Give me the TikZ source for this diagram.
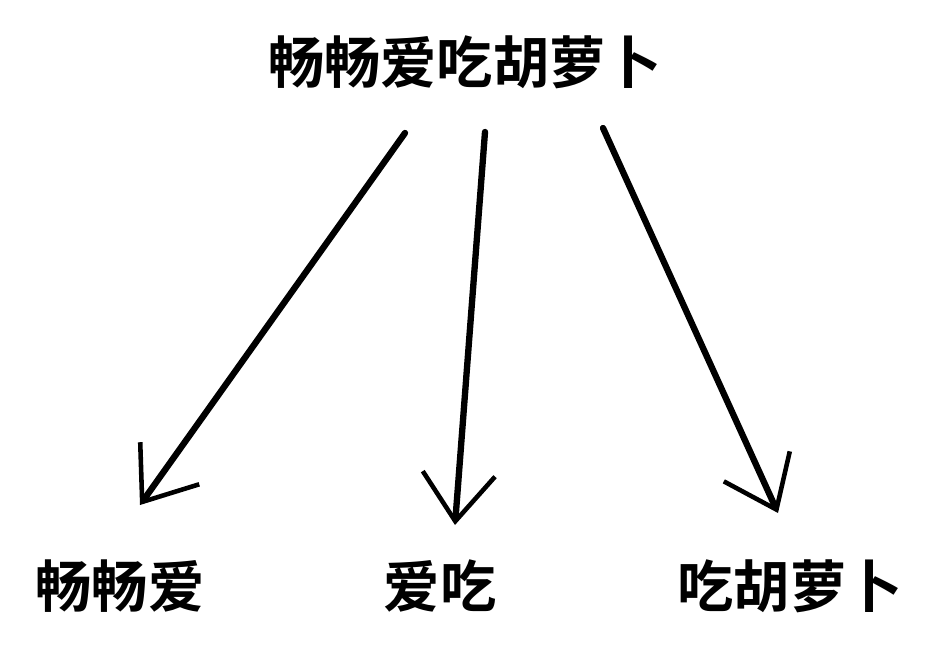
\documentclass[tikz,border=0pt]{standalone}
\usepackage{fontspec}
\newfontfamily\cjk{Noto Sans CJK SC}[BoldFont={Noto Sans CJK SC Bold}]
\usetikzlibrary{arrows.meta}
\tikzset{
  word/.style={font=\cjk\bfseries\fontsize{32}{38}\selectfont},
  link/.style={line width=3.6pt, line cap=round,
    -{Straight Barb[length=0.95cm, width=1.45cm, line width=2.6pt]}},
}
\begin{document}
\begin{tikzpicture}[x=0.02cm, y=-0.02cm]
  \useasboundingbox (0,0) rectangle (942,658);
  \node[word] (top) at (465,62) {畅畅爱吃胡萝卜};
  \node[word] (L) at (120,586) {畅畅爱};
  \node[word] (M) at (440,586) {爱吃};
  \node[word] (R) at (790,586) {吃胡萝卜};

  \coordinate (tl) at (405,133);
  \coordinate (tm) at (485,132);
  \coordinate (tr) at (603,128);
  \coordinate (el) at (140,505);
  \coordinate (em) at (455,525);
  \coordinate (er) at (778,513);

  \draw[link] (tl) -- (el);
  \draw[link] (tm) -- (em);
  \draw[link] (tr) -- (er);
\end{tikzpicture}
\end{document}
